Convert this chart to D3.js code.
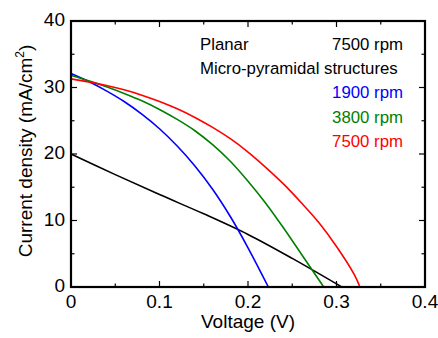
<!DOCTYPE html>
<html>
<head>
<meta charset="utf-8">
<script src="https://cdn.jsdelivr.net/npm/d3@7"></script>
<style>
  body { margin: 0; background: #fff; }
  text { font-family: Arial, "Liberation Sans", sans-serif; fill: #000; }
</style>
</head>
<body>
<div id="chart"></div>
<script>
// J-V curves, voltage (V) vs current density (mA/cm2)
var planar = [[0,20.0],[0.05,16.9],[0.1,13.9],[0.15,11.0],[0.2,7.9],[0.25,4.3],[0.306,0]];
var rpm1900 = [[0,32.1],[0.02,30.9],[0.04,29.5],[0.06,27.9],[0.08,26.0],[0.1,23.8],[0.12,21.2],[0.14,18.2],[0.16,14.7],[0.18,10.6],[0.2,5.9],[0.223,0]];
var rpm3800 = [[0,31.8],[0.02,31.0],[0.04,30.1],[0.06,29.1],[0.08,28.0],[0.1,26.7],[0.12,25.2],[0.14,23.5],[0.16,21.4],[0.18,18.9],[0.2,15.9],[0.22,12.6],[0.24,8.9],[0.26,5.0],[0.28,1.1],[0.2855,0]];
var rpm7500 = [[0,31.3],[0.02,30.85],[0.04,30.3],[0.06,29.65],[0.08,28.85],[0.1,27.9],[0.12,26.8],[0.14,25.5],[0.16,24.0],[0.18,22.3],[0.2,20.3],[0.22,18.0],[0.24,15.5],[0.26,12.7],[0.28,9.7],[0.3,6.1],[0.32,1.9],[0.3265,0]];

var seriesColors = ["#000000","#0000ff","#008000","#ff0000"];
var xTicks = [0,0.1,0.2,0.3,0.4];
var yTicks = [0,10,20,30,40];

var w = 438, h = 338;
var m = {t:21, r:13, b:51, l:71};

var svg = d3.select("#chart")
  .append("svg")
  .attr("width", w)
  .attr("height", h);

var scaleX = d3.scaleLinear().domain([0,0.4]).range([m.l, w - m.r]);
var scaleY = d3.scaleLinear().domain([0,40]).range([h - m.b, m.t]);

var line = d3.line()
  .x(function(d){ return scaleX(d[0]); })
  .y(function(d){ return scaleY(d[1]); })
  .curve(d3.curveCatmullRom.alpha(0.5));

// curves
[planar, rpm1900, rpm3800, rpm7500].forEach(function(s, i){
  svg.append("path")
    .datum(s)
    .attr("d", line)
    .attr("fill", "none")
    .attr("stroke", seriesColors[i])
    .attr("stroke-width", 1.6);
});

// minor + major ticks, pointing inward on all sides
var xMinor = d3.range(0, 0.401, 0.05);
var yMinor = d3.range(0, 40.1, 5);
function isMajorX(v){ return Math.abs(Math.round(v*10) - v*10) < 1e-6; }
function isMajorY(v){ return v % 10 === 0; }

var ticks = svg.append("g").attr("stroke", "#000").attr("stroke-width", 1.2);
xMinor.forEach(function(v){
  var len = isMajorX(v) ? 6 : 3.5, x = scaleX(v);
  ticks.append("line").attr("x1", x).attr("x2", x).attr("y1", scaleY(0)).attr("y2", scaleY(0) - len);
  ticks.append("line").attr("x1", x).attr("x2", x).attr("y1", scaleY(40)).attr("y2", scaleY(40) + len);
});
yMinor.forEach(function(v){
  var len = isMajorY(v) ? 6 : 3.5, y = scaleY(v);
  ticks.append("line").attr("y1", y).attr("y2", y).attr("x1", scaleX(0)).attr("x2", scaleX(0) + len);
  ticks.append("line").attr("y1", y).attr("y2", y).attr("x1", scaleX(0.4)).attr("x2", scaleX(0.4) - len);
});

// frame
svg.append("rect")
  .attr("x", scaleX(0))
  .attr("y", scaleY(40))
  .attr("width", scaleX(0.4) - scaleX(0))
  .attr("height", scaleY(0) - scaleY(40))
  .attr("fill", "none")
  .attr("stroke", "#000")
  .attr("stroke-width", 2.2);

// tick labels
svg.selectAll(".xlab")
  .data(xTicks)
  .enter().append("text")
  .attr("class", "xlab")
  .attr("x", function(d){ return scaleX(d); })
  .attr("y", scaleY(0) + 21)
  .attr("text-anchor", "middle")
  .attr("font-size", "19px")
  .text(function(d){ return d === 0 ? "0" : d3.format(".1f")(d); });

svg.selectAll(".ylab")
  .data(yTicks)
  .enter().append("text")
  .attr("class", "ylab")
  .attr("x", scaleX(0) - 6)
  .attr("y", function(d){ return scaleY(d) + 5; })
  .attr("text-anchor", "end")
  .attr("font-size", "19px")
  .text(function(d){ return d; });

// axis titles
svg.append("text")
  .attr("x", (scaleX(0) + scaleX(0.4)) / 2)
  .attr("y", 328)
  .attr("text-anchor", "middle")
  .attr("font-size", "19px")
  .text("Voltage (V)");

var yt = svg.append("text")
  .attr("transform", "translate(32," + ((scaleY(0) + scaleY(40)) / 2 - 3) + ") rotate(-90)")
  .attr("text-anchor", "middle")
  .attr("font-size", "19px");
yt.append("tspan").text("Current density (mA/cm");
yt.append("tspan").attr("font-size", "12px").attr("dy", -8).text("2");
yt.append("tspan").attr("dy", 8).text(")");

// legend text
var legend = [
  {t:"Planar", x:200, anchor:"start", c:"#000", row:0},
  {t:"7500 rpm", x:403, anchor:"end", c:"#000", row:0},
  {t:"Micro-pyramidal structures", x:200, anchor:"start", c:"#000", row:1},
  {t:"1900 rpm", x:403, anchor:"end", c:seriesColors[1], row:2},
  {t:"3800 rpm", x:403, anchor:"end", c:seriesColors[2], row:3},
  {t:"7500 rpm", x:403, anchor:"end", c:seriesColors[3], row:4}
];
svg.selectAll(".leg")
  .data(legend)
  .enter().append("text")
  .attr("class", "leg")
  .attr("x", function(d){ return d.x; })
  .attr("y", function(d){ return 50 + d.row * 24.2; })
  .attr("text-anchor", function(d){ return d.anchor; })
  .attr("font-size", "16.8px")
  .style("fill", function(d){ return d.c; })
  .text(function(d){ return d.t; });
</script>
</body>
</html>
